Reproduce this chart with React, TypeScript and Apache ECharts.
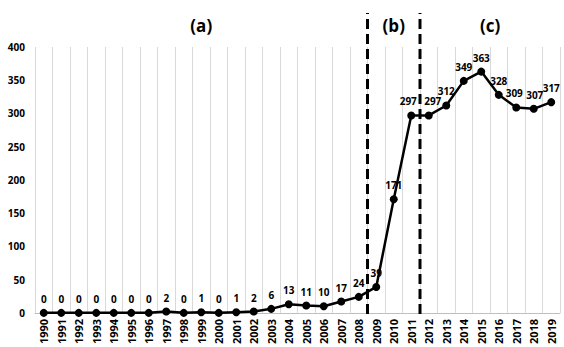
import React, { useEffect, useRef } from "react";
import * as echarts from "echarts";

const years = [
  "1990","1991","1992","1993","1994","1995","1996","1997","1998","1999",
  "2000","2001","2002","2003","2004","2005","2006","2007","2008","2009",
  "2010","2011","2012","2013","2014","2015","2016","2017","2018","2019",
];
const counts = [0,0,0,0,0,0,0,2,0,1,0,1,2,6,13,11,10,17,24,39,171,297,297,312,349,363,328,309,307,317];
const yTicks = { min: 0, max: 400, interval: 50 };
// period boundaries, in category-boundary units (0..30)
const dividers = [19, 22];
const periodLabels = [
  { name: "(a)", x: 9.5 },
  { name: "(b)", x: 20.5 },
  { name: "(c)", x: 26 },
];
// small horizontal nudges for crowded value labels (by year)
const labelNudge: Record<string, number> = { "2011": -3, "2012": 4, "2017": -2, "2018": 1 };

const FONT = "'Open Sans', 'Noto Sans', sans-serif";

export default function App() {
  const ref = useRef<HTMLDivElement>(null);
  useEffect(() => {
    if (!ref.current) return;
    const chart = echarts.init(ref.current, null, { renderer: "svg" });
    const L = 35, R = 4, B = 33;
    chart.setOption({
      animation: false,
      backgroundColor: "#ffffff",
      textStyle: { fontFamily: FONT },
      grid: [
        { left: L, right: R, top: 47, bottom: B },
        { left: L, right: R, top: 13, bottom: B },
      ],
      xAxis: [
        {
          type: "category",
          gridIndex: 0,
          data: years,
          boundaryGap: true,
          axisLine: { lineStyle: { color: "#bfbfbf", width: 1 } },
          axisTick: { show: false },
          axisLabel: {
            interval: 0,
            rotate: 90,
            color: "#000",
            fontWeight: "bold",
            fontSize: 11,
            fontFamily: FONT,
            margin: 6,
          },
          splitLine: { show: true, interval: 0, lineStyle: { color: "#d9d9d9", width: 1 } },
        },
        {
          type: "value",
          gridIndex: 1,
          min: 0,
          max: 30,
          show: false,
        },
      ],
      yAxis: [
        {
          type: "value",
          gridIndex: 0,
          min: yTicks.min,
          max: yTicks.max,
          interval: yTicks.interval,
          axisLine: { show: false },
          axisTick: { show: false },
          splitLine: { show: false },
          axisLabel: {
            color: "#000",
            fontWeight: "bold",
            fontSize: 10,
            fontFamily: FONT,
            margin: 10,
          },
        },
        {
          type: "value",
          gridIndex: 1,
          min: 0,
          max: 1,
          show: false,
        },
      ],
      series: [
        ...dividers.map((d) => ({
          type: "line",
          xAxisIndex: 1,
          yAxisIndex: 1,
          data: [[d, 0], [d, 1]],
          symbol: "none",
          lineStyle: { color: "#000", width: 3, type: [10, 5] },
          z: 2,
          silent: true,
        })),
        {
          type: "line",
          xAxisIndex: 0,
          yAxisIndex: 0,
          data: counts.map((v, i) => {
            const dx = labelNudge[years[i]];
            return dx ? { value: v, label: { offset: [dx, 0] } } : v;
          }),
          symbol: "circle",
          symbolSize: 8,
          itemStyle: { color: "#000" },
          lineStyle: { color: "#000", width: 2.5 },
          label: {
            show: true,
            position: "top",
            distance: 5,
            color: "#000",
            fontWeight: "bold",
            fontSize: 10,
            fontFamily: FONT,
          },
          z: 5,
        },
        {
          type: "scatter",
          xAxisIndex: 1,
          yAxisIndex: 1,
          data: periodLabels.map((p) => ({ value: [p.x, 0.96], name: p.name })),
          symbolSize: 0,
          itemStyle: { opacity: 1, color: "#000" },
          label: {
            show: true,
            position: "inside",
            formatter: (p: any) => p.name,
            color: "#000",
            opacity: 1,
            fontWeight: "bold",
            fontSize: 17,
            fontFamily: FONT,
          },
          silent: true,
        },
      ],
    });
    return () => chart.dispose();
  }, []);
  return (
    <div
      ref={ref}
      style={{ position: "fixed", left: 0, top: 0, width: 564, height: 347, background: "#fff" }}
    />
  );
}
